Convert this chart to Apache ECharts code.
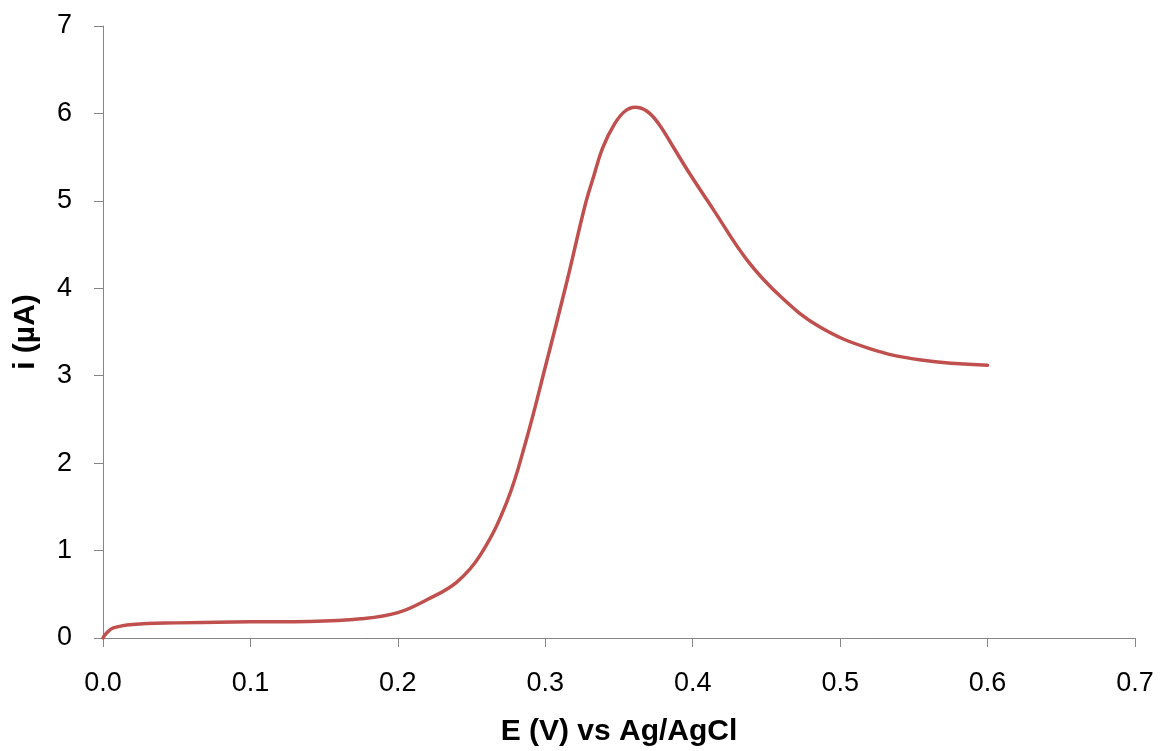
<!DOCTYPE html>
<html>
<head>
<meta charset="utf-8">
<script src="https://cdn.jsdelivr.net/npm/echarts@6/dist/echarts.min.js"></script>
<style>
  html, body { margin: 0; padding: 0; background: #fff; }
  #chart { width: 1161px; height: 751px; }
</style>
</head>
<body>
<div id="chart"></div>
<script>
// potential (V vs Ag/AgCl) and current (uA)
var potential = [0, 0.002, 0.007, 0.02, 0.05, 0.10, 0.14, 0.175, 0.20, 0.22,
    0.24, 0.256, 0.274, 0.287, 0.30, 0.315, 0.327, 0.333, 0.339, 0.347,
    0.354, 0.361, 0.369, 0.377, 0.387, 0.398, 0.414, 0.437, 0.46, 0.486,
    0.52, 0.555, 0.60];
var current = [0, 0.05, 0.115, 0.155, 0.173, 0.185, 0.19, 0.22, 0.29, 0.44,
    0.64, 0.95, 1.56, 2.26, 3.10, 4.10, 4.95, 5.29, 5.61, 5.88,
    6.025, 6.07, 6.025, 5.88, 5.61, 5.31, 4.90, 4.32, 3.90, 3.56,
    3.31, 3.18, 3.12];

var xTitle = 'E (V) vs Ag/AgCl';
var yTitle = 'i (µA)';

var points = [];
for (var i = 0; i < potential.length; i++) {
    points.push([potential[i], current[i]]);
}

var axisColor = '#868686';
var font = 'Liberation Sans';

var chart = echarts.init(document.getElementById('chart'));
var option = {
    animation: false,
    grid: {
        left: 103,
        right: 26,
        top: 26,
        bottom: 113,
        outerBoundsMode: 'none',
        containLabel: false
    },
    xAxis: {
        type: 'value',
        min: 0,
        max: 0.7,
        interval: 0.1,
        name: xTitle,
        nameLocation: 'middle',
        nameGap: 79,
        nameTextStyle: { color: '#000', fontSize: 30, fontWeight: 'bold', fontFamily: font },
        axisLine: { show: true, lineStyle: { color: axisColor, width: 1 } },
        axisTick: { show: true, inside: false, length: 9, lineStyle: { color: axisColor } },
        splitLine: { show: false },
        axisLabel: {
            color: '#000',
            fontSize: 27,
            fontFamily: font,
            margin: 32,
            formatter: function (v) { return v.toFixed(1); }
        }
    },
    yAxis: {
        type: 'value',
        min: 0,
        max: 7,
        interval: 1,
        name: yTitle,
        nameLocation: 'middle',
        nameGap: 62,
        nameRotate: 90,
        nameTextStyle: { color: '#000', fontSize: 30, fontWeight: 'bold', fontFamily: font },
        axisLine: { show: true, lineStyle: { color: axisColor, width: 1 } },
        axisTick: { show: true, inside: false, length: 9, lineStyle: { color: axisColor } },
        splitLine: { show: false },
        axisLabel: {
            color: '#000',
            fontSize: 27,
            fontFamily: font,
            margin: 31
        }
    },
    series: [{
        type: 'line',
        data: points,
        smooth: 0.4,
        showSymbol: false,
        lineStyle: { color: '#C0504D', width: 3.5, cap: 'round' },
        itemStyle: { color: '#C0504D' }
    }]
};
chart.setOption(option);
</script>
</body>
</html>
